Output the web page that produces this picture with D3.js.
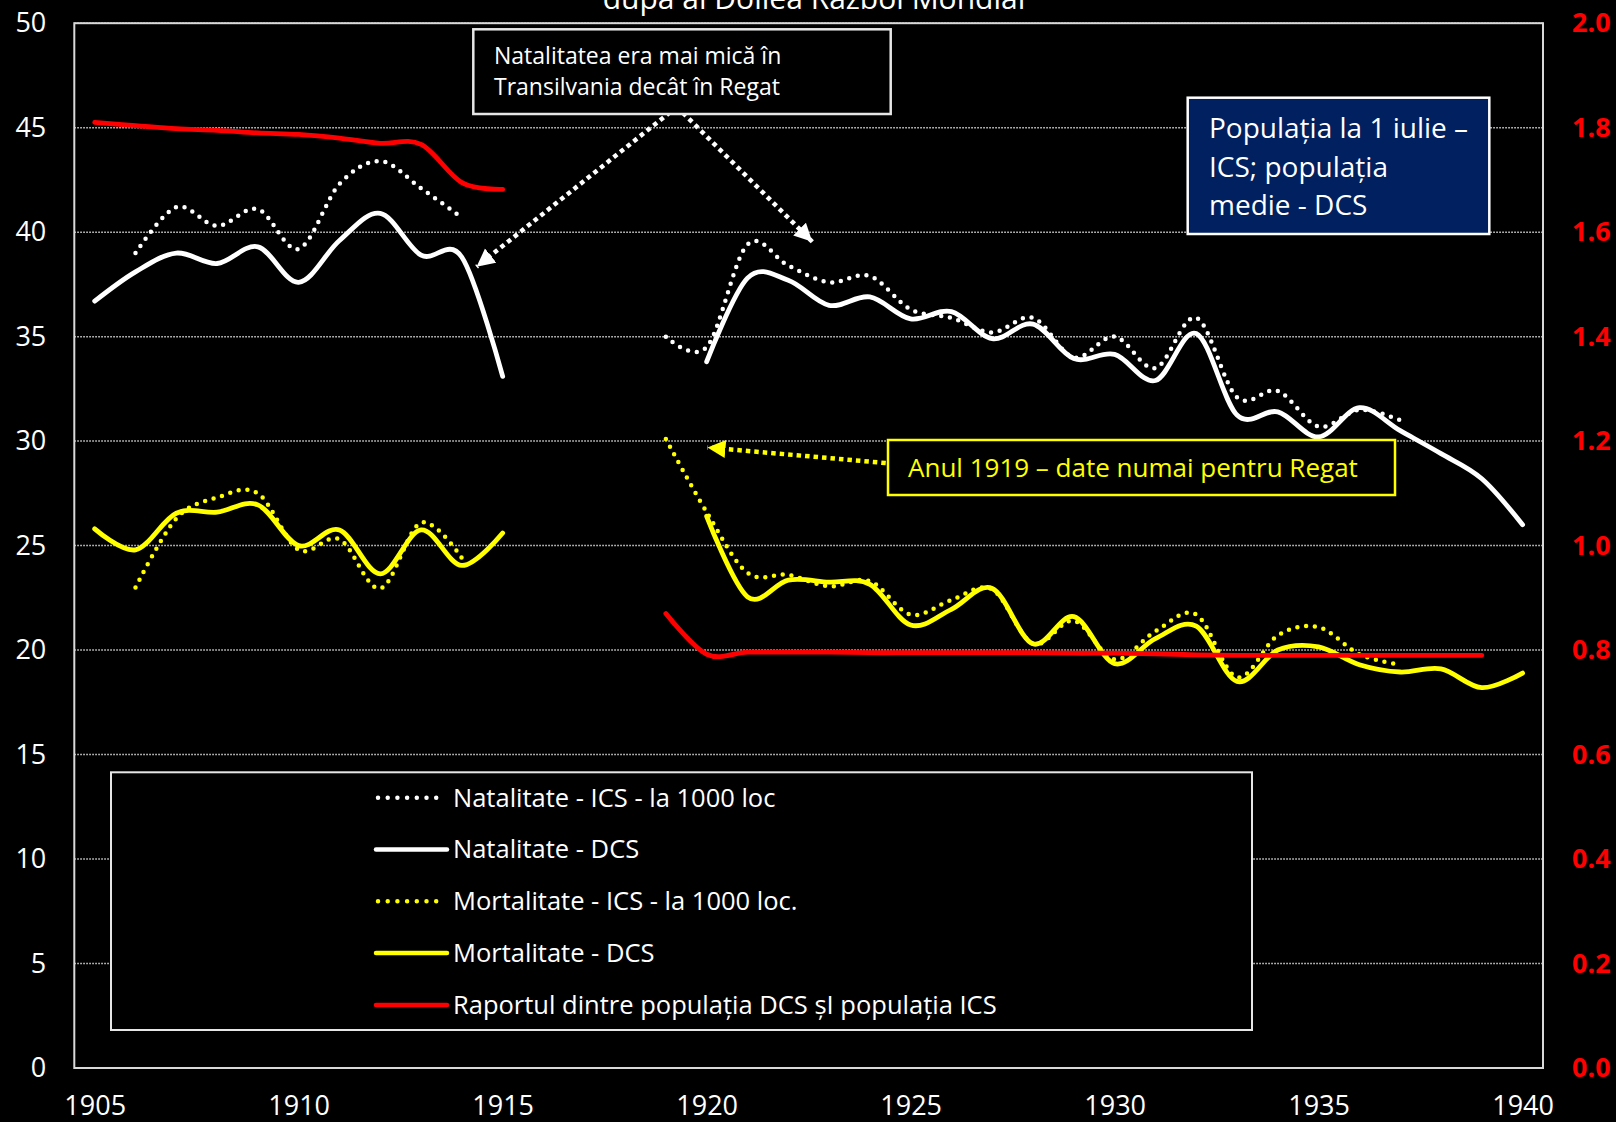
<!DOCTYPE html>
<html>
<head>
<meta charset="utf-8">
<script src="https://cdn.jsdelivr.net/npm/d3@7/dist/d3.min.js"></script>
<style>
  html, body { margin: 0; padding: 0; background: #000; }
  svg { display: block; font-family: 'Open Sans', 'Noto Sans', sans-serif; }
</style>
</head>
<body>
<script>
// values (per 1000 inhabitants, ratio on right axis)
const years = [1905, 1906, 1907, 1908, 1909, 1910, 1911, 1912, 1913, 1914, 1915, 1916,
  1917, 1918, 1919, 1920, 1921, 1922, 1923, 1924, 1925, 1926, 1927, 1928, 1929, 1930,
  1931, 1932, 1933, 1934, 1935, 1936, 1937, 1938, 1939, 1940];

const natalitateICS = [null, 39.0, 41.2, 40.3, 41.1, 39.2, 42.3, 43.4, 42.1, 40.7, null,
  null, null, null, 35.0, 34.5, 39.4, 38.4, 37.6, 37.9, 36.3, 35.9, 35.2, 35.9, 34.0, 35.0,
  33.5, 35.9, 32.1, 32.4, 30.7, 31.5, 31.0, null, null, null];

const natalitateDCS = [36.7, 38.1, 39.0, 38.5, 39.3, 37.6, 39.6, 40.9, 38.9, 38.8, 33.1,
  null, null, null, null, 33.8, 37.8, 37.7, 36.5, 36.9, 35.85, 36.2, 34.9, 35.6, 33.95,
  34.15, 32.9, 35.15, 31.25, 31.4, 30.2, 31.6, 30.5, 29.4, 28.2, 26.0];

const mortalitateICS = [null, 23.0, 26.3, 27.3, 27.5, 24.8, 25.3, 22.95, 26.1, 24.4, null,
  null, null, null, 30.1, 26.6, 23.7, 23.6, 23.05, 23.3, 21.7, 22.4, 22.9, 20.3, 21.4,
  19.55, 20.9, 21.7, 18.7, 20.7, 21.1, 19.8, 19.3, null, null, null];

const mortalitateDCS = [25.8, 24.8, 26.55, 26.6, 26.95, 25.0, 25.75, 23.65, 25.75, 24.05,
  25.6, null, null, null, null, 26.4, 22.55, 23.35, 23.25, 23.15, 21.2, 21.95, 22.95, 20.3,
  21.6, 19.35, 20.55, 21.15, 18.5, 20.0, 20.15, 19.3, 18.95, 19.1, 18.2, 18.9];

const raportDCSICS = [1.81, 1.804, 1.798, 1.795, 1.79, 1.787, 1.78, 1.77, 1.768, 1.695,
  1.682, null, null, null, 0.87, 0.792, 0.796, 0.796, 0.796, 0.795, 0.795, 0.795, 0.795,
  0.795, 0.794, 0.794, 0.793, 0.791, 0.79, 0.79, 0.79, 0.79, 0.79, 0.79, 0.79, null];

const xTicks = [1905, 1910, 1915, 1920, 1925, 1930, 1935, 1940];
const leftTicks = [0, 5, 10, 15, 20, 25, 30, 35, 40, 45, 50];
const rightTicks = [0, 0.2, 0.4, 0.6, 0.8, 1.0, 1.2, 1.4, 1.6, 1.8, 2.0];

const legendLabels = [
  'Natalitate - ICS - la 1000 loc',
  'Natalitate - DCS',
  'Mortalitate - ICS - la 1000 loc.',
  'Mortalitate - DCS',
  'Raportul dintre populația DCS șI populația ICS',
];

const titleLine = 'după al Doilea Război Mondial';
const noteNatalitate = ['Natalitatea era mai mică în', 'Transilvania decât în Regat'];
const notePopulatie = ['Populația la 1 iulie –', 'ICS; populația', 'medie - DCS'];
const note1919 = 'Anul 1919 – date numai pentru Regat';

const width = 1616;
const height = 1122;
const marginLeft = 74.3;
const marginRight = 1543;
const marginTop = 23.2;
const marginBottom = 1068;

const svg = d3
  .select('body')
  .append('svg')
  .attr('width', width)
  .attr('height', height);

svg.append('rect').attr('width', width).attr('height', height).attr('fill', '#000');

// scales
const x = d3.scalePoint().domain(years).range([marginLeft, marginRight]).padding(0.5);
const xl = d3
  .scaleLinear()
  .domain([years[0], years[years.length - 1]])
  .range([x(years[0]), x(years[years.length - 1])]);
const y = d3.scaleLinear().domain([0, 50]).range([marginBottom, marginTop]);
const y2 = d3.scaleLinear().domain([0, 2]).range([marginBottom, marginTop]);

// grid lines
svg
  .append('g')
  .selectAll('line')
  .data(leftTicks.filter((d) => d > 0))
  .join('line')
  .attr('x1', marginLeft)
  .attr('x2', marginRight)
  .attr('y1', (d) => y(d))
  .attr('y2', (d) => y(d))
  .attr('stroke', '#d9d9d9')
  .attr('stroke-width', 1.5)
  .attr('stroke-dasharray', '1.5 1.5');

// plot frame
svg
  .append('rect')
  .attr('x', marginLeft)
  .attr('y', marginTop)
  .attr('width', marginRight - marginLeft)
  .attr('height', marginBottom - marginTop)
  .attr('fill', 'none')
  .attr('stroke', '#d9d9d9')
  .attr('stroke-width', 2);

// axes
svg
  .append('g')
  .attr('transform', `translate(0,${marginBottom})`)
  .call(d3.axisBottom(x).tickValues(xTicks).tickSize(0).tickPadding(0))
  .call((g) => g.select('.domain').remove())
  .call((g) =>
    g
      .selectAll('text')
      .attr('y', 47)
      .attr('dy', 0)
      .attr('fill', '#fff')
      .style('font-size', '27px')
      .style('font-family', "'Open Sans', sans-serif")
  );

svg
  .append('g')
  .attr('transform', `translate(${marginLeft},0)`)
  .call(d3.axisLeft(y).tickValues(leftTicks).tickSize(0).tickPadding(28))
  .call((g) => g.select('.domain').remove())
  .call((g) =>
    g
      .selectAll('text')
      .attr('fill', '#fff')
      .style('font-size', '27px')
      .style('font-family', "'Open Sans', sans-serif")
  );

svg
  .append('g')
  .attr('transform', `translate(${marginRight},0)`)
  .call(
    d3.axisRight(y2).tickValues(rightTicks).tickFormat(d3.format('.1f')).tickSize(0).tickPadding(29)
  )
  .call((g) => g.select('.domain').remove())
  .call((g) =>
    g
      .selectAll('text')
      .attr('fill', '#ff0000')
      .style('font-size', '27px')
      .style('font-weight', 'bold')
      .style('font-family', "'Open Sans', sans-serif")
  );

// series
const series = [
  { values: natalitateICS, scale: y, color: '#ffffff', dotted: true },
  { values: natalitateDCS, scale: y, color: '#ffffff', dotted: false },
  { values: mortalitateICS, scale: y, color: '#ffff00', dotted: true },
  { values: mortalitateDCS, scale: y, color: '#ffff00', dotted: false },
  { values: raportDCSICS, scale: y2, color: '#ff0000', dotted: false },
];

for (let s of series) {
  const lineFunction = d3
    .line()
    .defined((d) => d[1] != null)
    .x((d) => x(d[0]))
    .y((d) => s.scale(d[1]))
    .curve(d3.curveCardinal.tension(0));
  svg
    .append('path')
    .datum(years.map((yr, i) => [yr, s.values[i]]))
    .attr('d', lineFunction)
    .attr('fill', 'none')
    .attr('stroke', s.color)
    .attr('stroke-width', s.dotted ? 4.5 : 4.8)
    .attr('stroke-linecap', 'round')
    .attr('stroke-linejoin', 'round')
    .attr('stroke-dasharray', s.dotted ? '0 8.8' : null);
}

// arrow heads
svg
  .append('defs')
  .selectAll('marker')
  .data([
    ['arrowWhite', '#ffffff'],
    ['arrowYellow', '#ffff00'],
  ])
  .join('marker')
  .attr('id', (d) => d[0])
  .attr('markerUnits', 'userSpaceOnUse')
  .attr('markerWidth', 20)
  .attr('markerHeight', 20)
  .attr('refX', 18)
  .attr('refY', 9)
  .attr('orient', 'auto')
  .append('path')
  .attr('d', 'M0,0 L18,9 L0,18 Z')
  .attr('fill', (d) => d[1]);

// arrows, in data coordinates [year, value]
const arrows = [
  { from: [1919.27, 46.0], to: [1914.36, 38.34], color: '#ffffff', marker: 'arrowWhite' },
  { from: [1919.27, 46.0], to: [1922.59, 39.54], color: '#ffffff', marker: 'arrowWhite' },
  { from: [1924.39, 28.95], to: [1920.02, 29.7], color: '#ffff00', marker: 'arrowYellow' },
];
svg
  .append('g')
  .selectAll('line')
  .data(arrows)
  .join('line')
  .attr('x1', (d) => xl(d.from[0]))
  .attr('y1', (d) => y(d.from[1]))
  .attr('x2', (d) => xl(d.to[0]))
  .attr('y2', (d) => y(d.to[1]))
  .attr('stroke', (d) => d.color)
  .attr('stroke-width', 4.5)
  .attr('stroke-dasharray', '4.5 4')
  .attr('marker-end', (d) => `url(#${d.marker})`);

// text boxes
const box = (bx, by, bw, bh, fill, stroke, lines, size, color, tx, baselines) => {
  svg
    .append('rect')
    .attr('x', bx)
    .attr('y', by)
    .attr('width', bw)
    .attr('height', bh)
    .attr('fill', fill)
    .attr('stroke', stroke)
    .attr('stroke-width', 2.5);
  lines.forEach((t, i) => {
    svg
      .append('text')
      .attr('x', tx)
      .attr('y', baselines[i])
      .text(t)
      .style('font-size', size + 'px')
      .attr('fill', color);
  });
};

box(473.3, 29.3, 417.4, 84.7, '#000', '#e6e6e6', noteNatalitate, 23, '#fff', 494, [64.3, 95]);
box(1187.7, 97.7, 301.6, 136.3, '#002060', '#ffffff', notePopulatie, 28, '#fff', 1209, [138.3, 176.7, 215]);
box(888, 440, 507, 55, '#000', '#ffff00', [note1919], 26, '#ffff00', 908, [477]);

// legend
const legend = svg.append('g');
legend
  .append('rect')
  .attr('x', 111)
  .attr('y', 772.3)
  .attr('width', 1141)
  .attr('height', 257.7)
  .attr('fill', '#000')
  .attr('stroke', '#e6e6e6')
  .attr('stroke-width', 2);

legendLabels.forEach((label, i) => {
  const s = series[i];
  const ly = 797.7 + i * 51.8;
  legend
    .append('line')
    .attr('x1', s.dotted ? 378 : 376)
    .attr('x2', s.dotted ? 440 : 447)
    .attr('y1', ly)
    .attr('y2', ly)
    .attr('stroke', s.color)
    .attr('stroke-width', 4.5)
    .attr('stroke-linecap', 'round')
    .attr('stroke-dasharray', s.dotted ? '0 9.7' : null);
  legend
    .append('text')
    .attr('x', 453)
    .attr('y', ly)
    .attr('dy', '0.35em')
    .text(label)
    .style('font-size', '25.5px')
    .attr('fill', '#fff');
});

// title (only its last line is on the page)
svg
  .append('text')
  .attr('x', 814)
  .attr('y', 9)
  .attr('text-anchor', 'middle')
  .text(titleLine)
  .style('font-size', '30px')
  .attr('fill', '#fff');
</script>
</body>
</html>
